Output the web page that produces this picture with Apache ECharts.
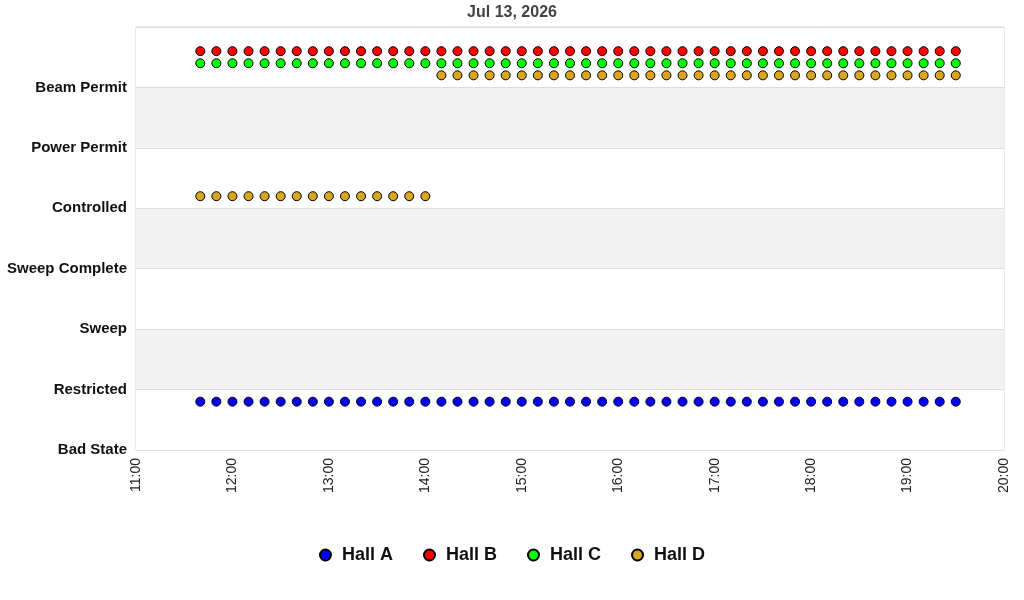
<!DOCTYPE html>
<html>
<head>
<meta charset="utf-8">
<title>Hall states</title>
<script src="https://cdn.jsdelivr.net/npm/echarts@6/dist/echarts.min.js"></script>
<style>
  html, body { margin: 0; padding: 0; background: #fff; }
  #chart { width: 1024px; height: 600px; }
</style>
</head>
<body>
<div id="chart"></div>
<script>
const day = '2026-07-13';
const stateNames = ['Bad State', 'Restricted', 'Sweep', 'Sweep Complete', 'Controlled', 'Power Permit', 'Beam Permit', ''];

const times = [
  '11:40', '11:50', '12:00', '12:10', '12:20', '12:30', '12:40', '12:50',
  '13:00', '13:10', '13:20', '13:30', '13:40', '13:50', '14:00', '14:10',
  '14:20', '14:30', '14:40', '14:50', '15:00', '15:10', '15:20', '15:30',
  '15:40', '15:50', '16:00', '16:10', '16:20', '16:30', '16:40', '16:50',
  '17:00', '17:10', '17:20', '17:30', '17:40', '17:50', '18:00', '18:10',
  '18:20', '18:30', '18:40', '18:50', '19:00', '19:10', '19:20', '19:30'
];

// state index per sample (0 = Bad State ... 6 = Beam Permit)
const hallA = [
  1, 1, 1, 1, 1, 1, 1, 1, 1, 1, 1, 1, 1, 1, 1, 1,
  1, 1, 1, 1, 1, 1, 1, 1, 1, 1, 1, 1, 1, 1, 1, 1,
  1, 1, 1, 1, 1, 1, 1, 1, 1, 1, 1, 1, 1, 1, 1, 1
];
const hallB = [
  6, 6, 6, 6, 6, 6, 6, 6, 6, 6, 6, 6, 6, 6, 6, 6,
  6, 6, 6, 6, 6, 6, 6, 6, 6, 6, 6, 6, 6, 6, 6, 6,
  6, 6, 6, 6, 6, 6, 6, 6, 6, 6, 6, 6, 6, 6, 6, 6
];
const hallC = [
  6, 6, 6, 6, 6, 6, 6, 6, 6, 6, 6, 6, 6, 6, 6, 6,
  6, 6, 6, 6, 6, 6, 6, 6, 6, 6, 6, 6, 6, 6, 6, 6,
  6, 6, 6, 6, 6, 6, 6, 6, 6, 6, 6, 6, 6, 6, 6, 6
];
const hallD = [
  4, 4, 4, 4, 4, 4, 4, 4, 4, 4, 4, 4, 4, 4, 4, 6,
  6, 6, 6, 6, 6, 6, 6, 6, 6, 6, 6, 6, 6, 6, 6, 6,
  6, 6, 6, 6, 6, 6, 6, 6, 6, 6, 6, 6, 6, 6, 6, 6
];

const halls = [
  { name: 'Hall A', values: hallA, color: '#0000ff', offset: -0.2 },
  { name: 'Hall B', values: hallB, color: '#ff0000', offset: 0.6 },
  { name: 'Hall C', values: hallC, color: '#00ff00', offset: 0.4 },
  { name: 'Hall D', values: hallD, color: '#daa520', offset: 0.2 }
];

const toTime = (t) => new Date(day + 'T' + t + ':00').getTime();

const chart = echarts.init(document.getElementById('chart'));

const option = {
  animation: false,
  backgroundColor: '#fff',
  textStyle: { fontFamily: "'Liberation Sans', Arial, sans-serif" },
  title: {
    text: 'Jul 13, 2026',
    left: 'center',
    top: 0,
    textStyle: { color: '#444', fontSize: 16, fontWeight: 'bold', fontFamily: "'Liberation Sans', Arial, sans-serif" }
  },
  legend: {
    bottom: 31,
    left: 'center',
    icon: 'circle',
    itemWidth: 11,
    itemHeight: 11,
    itemGap: 30,
    textStyle: { color: '#111', fontSize: 18, fontWeight: 'bold', padding: [0, 0, 0, 6], fontFamily: "'Liberation Sans', Arial, sans-serif" },
    data: halls.map((h) => h.name)
  },
  grid: { left: 136, right: 20, top: 27, bottom: 150, show: true, borderColor: '#d6d6d6', borderWidth: 1 },
  xAxis: {
    type: 'time',
    min: toTime('11:00'),
    max: toTime('20:00'),
    interval: 3600 * 1000,
    axisLine: { show: false },
    axisTick: { show: false },
    splitLine: { show: false },
    axisLabel: {
      rotate: 90,
      margin: 8,
      color: '#222',
      fontSize: 14,
      fontFamily: "'Liberation Sans', Arial, sans-serif",
      showMinLabel: true,
      showMaxLabel: true,
      formatter: (v) => echarts.time.format(v, '{HH}:{mm}', false)
    }
  },
  yAxis: {
    type: 'value',
    min: 0,
    max: 7,
    interval: 1,
    axisLine: { show: false },
    axisTick: { show: false },
    axisLabel: {
      color: '#111',
      fontSize: 15,
      fontWeight: 'bold',
      fontFamily: "'Liberation Sans', Arial, sans-serif",
      margin: 9,
      padding: [5, 0, 0, 0],
      formatter: (v) => stateNames[v]
    },
    splitLine: { show: true, lineStyle: { color: '#dddddd' } },
    splitArea: { show: true, areaStyle: { color: ['#ffffff', '#f2f2f2'] } }
  },
  series: halls.map((h) => ({
    name: h.name,
    type: 'scatter',
    symbol: 'circle',
    symbolSize: 9,
    itemStyle: { color: h.color, opacity: 1, borderColor: '#000', borderWidth: 1 },
    data: h.values.map((v, i) => [toTime(times[i]), v + h.offset])
  }))
};

chart.setOption(option);
</script>
</body>
</html>
